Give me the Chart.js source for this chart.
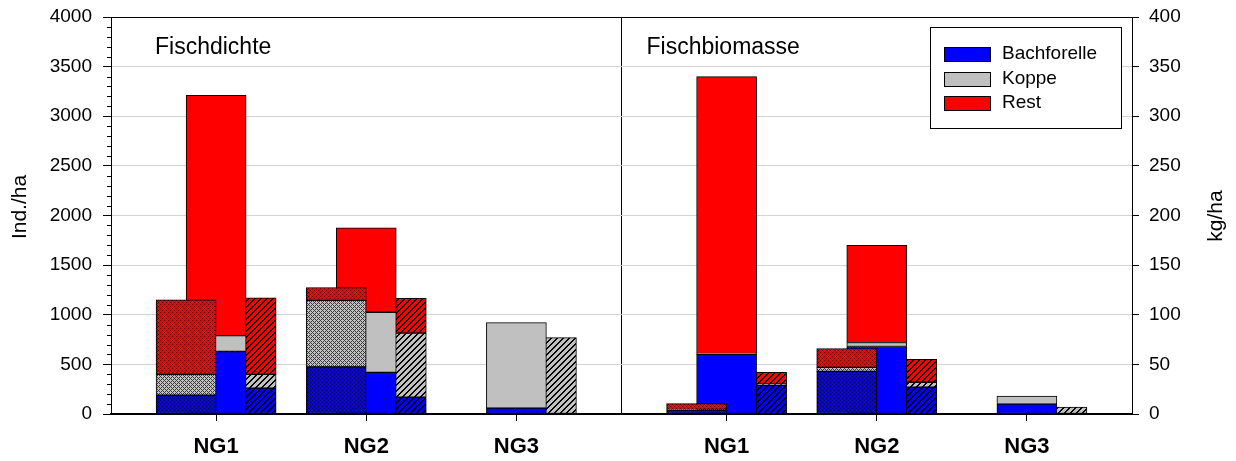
<!DOCTYPE html>
<html>
<head>
<meta charset="utf-8">
<script src="https://cdn.jsdelivr.net/npm/chart.js@4"></script>
<style>
  body { margin: 0; background: #fff; }
</style>
</head>
<body>
<canvas id="myChart" width="1236" height="461"></canvas>
<script>
const groups = ['NG1', 'NG2', 'NG3'];
const species = ['Bachforelle', 'Koppe', 'Rest'];
const colors = ['#0000ff', '#c0c0c0', '#ff0000'];
const panelTitles = ['Fischdichte', 'Fischbiomasse'];
const axisTitles = ['Ind./ha', 'kg/ha'];

// Fischdichte (Ind./ha), rows: Bachforelle, Koppe, Rest / columns: NG1, NG2, NG3
const dichteKreuz = [[190, 475, null], [210, 670, null], [750, 130, null]];
const dichteVoll = [[630, 420, 60], [160, 605, 860], [2420, 850, null]];
const dichteSchraeg = [[260, 170, null], [140, 645, 770], [770, 350, null]];

// Fischbiomasse (kg/ha)
const biomasseKreuz = [[4, 43, null], [0.5, 4, null], [6, 19, null]];
const biomasseVoll = [[60, 68, 10], [1, 4, 8], [279, 98, null]];
const biomasseSchraeg = [[29, 27, null], [1, 5, 7], [12, 23, null]];

const leftMax = 4000, leftStep = 500, leftMinor = 100;
const rightMax = 400, rightStep = 50;

const font = "'Liberation Sans', Arial, sans-serif";

// group centres inside a panel, panel width (x units, 1 unit = 150 px)
const groupPos = [0.7, 1.7, 2.7];
const panelWidth = 3.4;

const crossPattern = (color) => {
  const c = document.createElement('canvas');
  c.width = 4; c.height = 4;
  const g = c.getContext('2d');
  g.fillStyle = color;
  g.fillRect(0, 0, 4, 4);
  g.fillStyle = 'rgba(0,0,0,0.7)';
  for (let x = 0; x < 4; x++) {
    for (let y = 0; y < 4; y++) {
      if ((x + y) % 4 === 0 || (x - y + 4) % 4 === 0) g.fillRect(x, y, 1, 1);
    }
  }
  return g.createPattern(c, 'repeat');
};

const hatchPattern = (color) => {
  const c = document.createElement('canvas');
  c.width = 6; c.height = 6;
  const g = c.getContext('2d');
  g.fillStyle = color;
  g.fillRect(0, 0, 6, 6);
  g.fillStyle = '#000';
  for (let x = 0; x < 6; x++) {
    for (let y = 0; y < 6; y++) {
      if ((x + y) % 6 < 2) g.fillRect(x, y, 1, 1);
    }
  }
  return g.createPattern(c, 'repeat');
};

const panels = [
  { axis: 'y', start: 0, sets: [dichteKreuz, dichteVoll, dichteSchraeg] },
  { axis: 'y2', start: panelWidth, sets: [biomasseKreuz, biomasseVoll, biomasseSchraeg] },
];

// crosshatched bar on top, plain in the middle, hatched behind
const barTypes = [
  { shift: -0.2, fill: (i) => crossPattern(colors[i]) },
  { shift: 0, fill: (i) => colors[i] },
  { shift: 0.2, fill: (i) => hatchPattern(colors[i]) },
];

const datasets = [];
barTypes.forEach((bar, t) => {
  panels.forEach((panel) => {
    species.forEach((name, s) => {
      datasets.push({
        label: name,
        yAxisID: panel.axis,
        order: t,
        stack: 's',
        grouped: false,
        barThickness: 60,
        backgroundColor: bar.fill(s),
        borderColor: '#000',
        borderWidth: 1,
        borderSkipped: false,
        data: panel.sets[t][s].map((v, g) => ({ x: panel.start + groupPos[g] + bar.shift, y: v })),
      });
    });
  });
});

const xTickValues = [...groupPos, panelWidth, ...groupPos.map((p) => p + panelWidth)];
const xTickLabels = [...groups, '', ...groups];
const isDivider = (ctx) => ctx.tick && Math.abs(ctx.tick.value - panelWidth) < 1e-6;

const noPad = (scale) => { scale.paddingTop = 0; scale.paddingBottom = 0; };

const extras = {
  id: 'extras',
  afterDraw(chart) {
    const { ctx, chartArea, scales } = chart;
    ctx.save();
    ctx.strokeStyle = '#000';
    ctx.lineWidth = 1;
    // minor ticks on the left axis
    for (let v = leftMinor; v < leftMax; v += leftMinor) {
      if (v % leftStep === 0) continue;
      const y = Math.round(scales.y.getPixelForValue(v)) + 0.5;
      ctx.beginPath();
      ctx.moveTo(chartArea.left - 4, y);
      ctx.lineTo(chartArea.left, y);
      ctx.stroke();
    }

    // panel titles
    ctx.fillStyle = '#000';
    ctx.font = '23px ' + font;
    ctx.textBaseline = 'alphabetic';
    ctx.textAlign = 'left';
    const divX = scales.x.getPixelForValue(panelWidth);
    ctx.fillText(panelTitles[0], chartArea.left + 44, 54);
    ctx.fillText(panelTitles[1], divX + 25, 54);

    // axis titles, both read bottom to top
    ctx.font = '21px ' + font;
    ctx.textAlign = 'center';
    ctx.textBaseline = 'middle';
    ctx.save();
    ctx.translate(20, 207);
    ctx.rotate(-Math.PI / 2);
    ctx.fillText(axisTitles[0], 0, 0);
    ctx.restore();
    ctx.save();
    ctx.translate(1216, 216);
    ctx.rotate(-Math.PI / 2);
    ctx.fillText(axisTitles[1], 0, 0);
    ctx.restore();

    // legend box
    const bx = chartArea.right - 202, by = chartArea.top + 10;
    ctx.fillStyle = '#fff';
    ctx.fillRect(bx, by, 191, 101);
    ctx.strokeRect(bx + 0.5, by + 0.5, 191, 101);
    ctx.font = '19px ' + font;
    ctx.textAlign = 'left';
    species.forEach((name, i) => {
      const cy = by + 27 + i * 24.5;
      ctx.fillStyle = colors[i];
      ctx.fillRect(bx + 14, Math.round(cy - 7), 46, 14);
      ctx.strokeRect(bx + 14.5, Math.round(cy - 7) + 0.5, 46, 14);
      ctx.fillStyle = '#000';
      ctx.fillText(name, bx + 72, cy);
    });
    ctx.restore();
  },
};

const config = {
  type: 'bar',
  data: { datasets: datasets },
  options: {
    responsive: false,
    devicePixelRatio: 1,
    animation: false,
    layout: { padding: { top: 17, left: 0, right: 0, bottom: 0 } },
    plugins: { legend: { display: false }, tooltip: { enabled: false } },
    scales: {
      x: {
        type: 'linear',
        min: 0,
        max: panelWidth * 2,
        offset: false,
        afterBuildTicks: (scale) => { scale.ticks = xTickValues.map((v) => ({ value: v })); },
        afterFit: (scale) => { scale.height = 47; scale.paddingLeft = 0; scale.paddingRight = 0; },
        ticks: {
          autoSkip: false,
          maxRotation: 0,
          padding: 13,
          color: '#000',
          font: { family: font, size: 22, weight: 'bold' },
          callback: (v, i) => xTickLabels[i],
        },
        grid: {
          offset: false,
          drawOnChartArea: true,
          color: (ctx) => isDivider(ctx) ? '#000' : 'rgba(0,0,0,0)',
          tickColor: (ctx) => isDivider(ctx) ? 'rgba(0,0,0,0)' : '#000',
          tickLength: 7,
        },
        border: { color: '#000', width: 2 },
      },
      y: {
        position: 'left',
        stacked: true,
        min: 0,
        max: leftMax,
        afterFit: (scale) => { scale.width = 111; noPad(scale); },
        ticks: {
          stepSize: leftStep, padding: 11, color: '#000',
          font: { family: font, size: 19 },
          callback: (v) => String(v),
        },
        grid: {
          color: (ctx) => ctx.tick && ctx.tick.value === leftMax ? '#000' : '#d3d3d3',
          tickColor: '#000',
          tickLength: 8,
        },
        border: { color: '#000', width: 1 },
      },
      y2: {
        position: 'right',
        stacked: true,
        min: 0,
        max: rightMax,
        afterFit: (scale) => { scale.width = 104; noPad(scale); },
        ticks: {
          stepSize: rightStep, padding: 10, color: '#000',
          font: { family: font, size: 19 },
          callback: (v) => String(v),
        },
        grid: { drawOnChartArea: false, tickColor: '#000', tickLength: 7 },
        border: { color: '#000', width: 1 },
      },
    },
  },
  plugins: [extras],
};

const myChart = new Chart('myChart', config);
</script>
</body>
</html>
